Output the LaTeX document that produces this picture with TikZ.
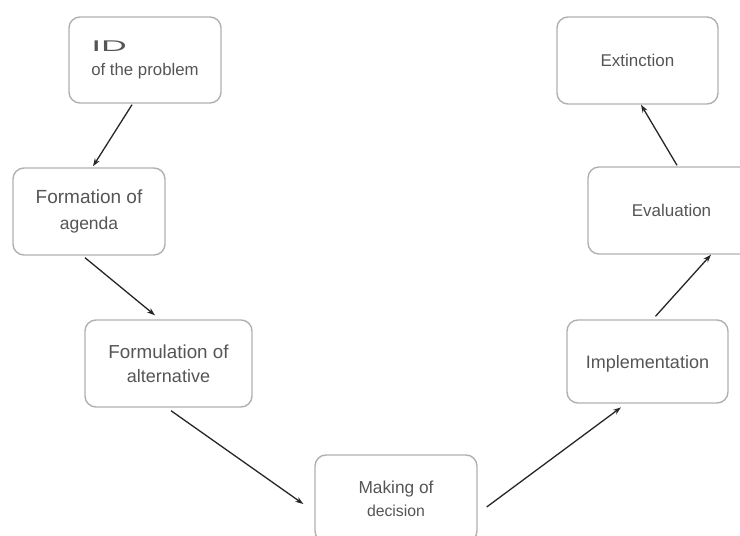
\documentclass[tikz,border=0pt]{standalone}
\usepackage{graphicx}
\usepackage{fontspec}
\setmainfont{Liberation Sans}
\usetikzlibrary{arrows.meta}
\definecolor{txtgray}{HTML}{555555}
\definecolor{boxgray}{HTML}{B0B0B0}
\begin{document}
\begin{tikzpicture}[x=1pt,y=-1pt,
  stagebox/.style={draw=boxgray, line width=1.4pt, rounded corners=11pt, text=txtgray,
    align=center, font=\fontsize{17}{24}\selectfont, inner sep=0pt},
  arr/.style={-{Stealth[length=8pt,width=5.5pt]}, line width=1.3pt, black!85}]
\useasboundingbox (0,0) rectangle (740,536);
\clip (0,0) rectangle (740,536);
\node[stagebox, minimum width=152pt, minimum height=86pt, align=left,
  font=\fontsize{16.8}{24}\selectfont] (id) at (145,60)
  {{\fontsize{15.5}{24}\selectfont\scalebox{2.3}[1]{ID}}\\of the problem};
\node[stagebox, minimum width=152pt, minimum height=87pt,
  font=\fontsize{19}{26}\selectfont] (agenda) at (89,211.5)
  {Formation of\\{\fontsize{17.5}{26}\selectfont agenda}};
\node[stagebox, minimum width=167pt, minimum height=87pt,
  font=\fontsize{18.8}{24}\selectfont] (formul) at (168.5,363.5)
  {Formulation of\\{\fontsize{18}{24}\selectfont alternative}};
\node[stagebox, minimum width=162pt, minimum height=87pt,
  font=\fontsize{17.3}{23}\selectfont] (making) at (396,498.5)
  {Making of\\{\fontsize{15.8}{23}\selectfont decision}};
\node[stagebox, minimum width=161pt, minimum height=83pt, text depth=0pt,
  font=\fontsize{18}{24}\selectfont] (impl) at (647.5,361.5) {Implementation};
\node[stagebox, minimum width=167pt, minimum height=87pt] (eval) at (671.5,210.5) {Evaluation};
\node[stagebox, minimum width=161pt, minimum height=87pt,
  font=\fontsize{17}{24}\selectfont] (ext) at (637.5,60.5) {Extinction};
\draw[arr] ([xshift=-13pt,yshift=-1pt]id.south) -- ([xshift=4pt,yshift=1pt]agenda.north);
\draw[arr] ([xshift=-4pt,yshift=-2pt]agenda.south) -- ([xshift=-13.5pt,yshift=4pt]formul.north);
\draw[arr] ([xshift=2.5pt,yshift=-3pt]formul.south) -- ([xshift=-11pt,yshift=-5.5pt]making.west);
\draw[arr] ([xshift=9pt,yshift=-8.5pt]making.east) -- ([xshift=-26.5pt,yshift=-3.7pt]impl.south);
\draw[arr] ([xshift=8pt,yshift=3pt]impl.north) -- ([xshift=39.5pt]eval.south);
\draw[arr] ([xshift=5.5pt,yshift=1pt]eval.north) -- ([xshift=3.5pt]ext.south);
\end{tikzpicture}
\end{document}
